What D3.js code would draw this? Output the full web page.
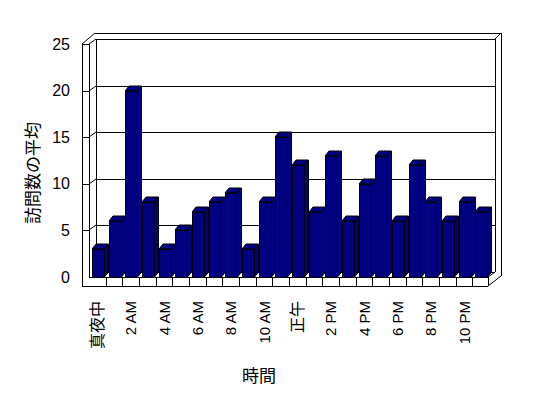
<!DOCTYPE html>
<html>
<head>
<meta charset="utf-8">
<script src="https://cdn.jsdelivr.net/npm/d3@7"></script>
<style>
  body { margin: 0; background: #fff; }
  text { font-family: "Liberation Sans", "Noto Sans CJK JP", sans-serif; fill: #000; }
</style>
</head>
<body>
<div id="wrapper"></div>
<script>
// # Data
const hours = [
  "真夜中", "1 AM", "2 AM", "3 AM", "4 AM", "5 AM", "6 AM", "7 AM", "8 AM", "9 AM", "10 AM", "11 AM",
  "正午", "1 PM", "2 PM", "3 PM", "4 PM", "5 PM", "6 PM", "7 PM", "8 PM", "9 PM", "10 PM", "11 PM",
];
const visits = [3, 6, 20, 8, 3, 5, 7, 8, 9, 3, 8, 15, 12, 7, 13, 6, 10, 13, 6, 12, 8, 6, 8, 7];
const yTicks = [0, 5, 10, 15, 20, 25];

function drawChart() {
  // # Dimensions
  let dimensions = {
    width: 548,
    height: 398,
    left: 89,      // front edge of the plot area
    right: 489,
    base: 277,     // floor, front
    top: 44,       // 25 at the front
    wallX: 82,     // outer face of the side wall
    floorY: 286,   // outer face of the floor
  };
  const depth = { dx: 7, dy: -5 };     // from front of the plot to the back wall
  const shell = { dx: 6, dy: -6 };     // back wall thickness
  const barDepth = { dx: 4, dy: -5 };

  const svg = d3.select("#wrapper")
    .append("svg")
    .attr("width", dimensions.width)
    .attr("height", dimensions.height);

  // # Scales
  const xScale = d3.scaleBand()
    .domain(hours)
    .range([dimensions.left, dimensions.right]);

  const yScale = d3.scaleLinear()
    .domain([0, 25])
    .range([dimensions.base, dimensions.top]);

  const line = (g, x1, y1, x2, y2) => g.append("line")
    .attr("x1", x1).attr("y1", y1).attr("x2", x2).attr("y2", y2)
    .attr("stroke", "#000")
    .attr("stroke-width", 1)
    .attr("shape-rendering", "crispEdges");

  const diag = (g, x1, y1, x2, y2) => line(g, x1, y1, x2, y2).attr("shape-rendering", "auto");

  // # Walls
  const walls = svg.append("g");
  const L = dimensions.left, R = dimensions.right;
  const backL = L + depth.dx, backR = R + depth.dx - 1;
  const backTop = yScale(25) + depth.dy, backBase = dimensions.base + depth.dy;
  const outerTop = backTop + shell.dy, outerR = backR + shell.dx;

  // side wall
  line(walls, dimensions.wallX, yScale(25), dimensions.wallX, dimensions.floorY);
  line(walls, dimensions.wallX, yScale(25), L, yScale(25));
  line(walls, L, yScale(25), L, dimensions.base);
  diag(walls, dimensions.wallX, yScale(25), backL - 1, outerTop);
  diag(walls, L, yScale(25), backL, backTop);
  line(walls, backL, backTop, backL, backBase);

  // back wall
  line(walls, backL - 1, outerTop, outerR, outerTop);
  line(walls, backL, backTop, backR, backTop);
  diag(walls, backR, backTop, outerR, outerTop);
  line(walls, backR, backTop, backR, backBase);
  line(walls, outerR, outerTop, outerR, backBase + 4);

  // floor
  line(walls, dimensions.wallX, dimensions.floorY, R - 1, dimensions.floorY);
  line(walls, L, dimensions.base, R - 1, dimensions.base);
  line(walls, R - 1, dimensions.base, R - 1, dimensions.floorY);
  diag(walls, R - 1, dimensions.base, backR, backBase);
  diag(walls, R - 1, dimensions.floorY, outerR, backBase + 4);
  line(walls, backL, backBase, backR, backBase);

  // # Gridlines
  const grid = svg.append("g");
  yTicks.filter(d => d > 0 && d < 25).forEach(d => {
    const y = Math.round(yScale(d));
    line(grid, dimensions.wallX, y, L, y);
    diag(grid, L, y, backL, y + depth.dy);
    line(grid, backL, y + depth.dy, backR, y + depth.dy);
  });

  // floor front face category ticks
  hours.slice(1).forEach(d => {
    const x = Math.round(xScale(d));
    line(walls, x, dimensions.base, x, dimensions.floorY);
  });

  // # Bars
  const barColor = "#000080";
  const barWidth = xScale.bandwidth() * 0.75;
  const barOffset = 3;
  const bars = svg.append("g")
    .selectAll("g")
    .data(hours.map((h, i) => ({ hour: h, value: visits[i] })))
    .join("g");

  const bx = d => Math.round(xScale(d.hour) + barOffset);
  const by = d => Math.round(yScale(d.value));

  // side face
  bars.append("polygon")
    .attr("points", d => {
      const x = bx(d) + barWidth, y = by(d), b = dimensions.base;
      return [[x, y], [x + barDepth.dx, y + barDepth.dy], [x + barDepth.dx, b + barDepth.dy], [x, b]].join(" ");
    })
    .attr("fill", barColor)
    .attr("stroke", "#000");

  // top face
  bars.append("polygon")
    .attr("points", d => {
      const x = bx(d), y = by(d);
      return [[x, y], [x + barDepth.dx, y + barDepth.dy], [x + barWidth + barDepth.dx, y + barDepth.dy], [x + barWidth, y]].join(" ");
    })
    .attr("fill", barColor)
    .attr("stroke", "#000");

  // front face
  bars.append("rect")
    .attr("x", bx)
    .attr("y", by)
    .attr("width", barWidth)
    .attr("height", d => dimensions.base - by(d))
    .attr("fill", barColor)
    .attr("stroke", "#000")
    .attr("shape-rendering", "crispEdges");

  // # Axis labels
  svg.append("g")
    .selectAll("text")
    .data(yTicks)
    .join("text")
    .attr("x", 70)
    .attr("y", d => yScale(d))
    .attr("text-anchor", "end")
    .attr("dominant-baseline", "central")
    .style("font-size", "16px")
    .text(d => d);

  svg.append("g")
    .selectAll("text")
    .data(hours.filter((d, i) => i % 2 === 0))
    .join("text")
    .attr("transform", d => `translate(${xScale(d) + xScale.bandwidth() / 2}, 301) rotate(-90)`)
    .attr("text-anchor", "end")
    .attr("dominant-baseline", "central")
    .style("font-size", d => /[^\x00-\x7f]/.test(d) ? "16px" : "15px")
    .text(d => d);

  // # Titles
  svg.append("text")
    .attr("transform", "translate(33, 173) rotate(-90)")
    .attr("text-anchor", "middle")
    .attr("dominant-baseline", "central")
    .style("font-size", "17px")
    .text("訪問数の平均");

  svg.append("text")
    .attr("x", 259)
    .attr("y", 376)
    .attr("text-anchor", "middle")
    .attr("dominant-baseline", "central")
    .style("font-size", "17px")
    .text("時間");
}
drawChart();
</script>
</body>
</html>
